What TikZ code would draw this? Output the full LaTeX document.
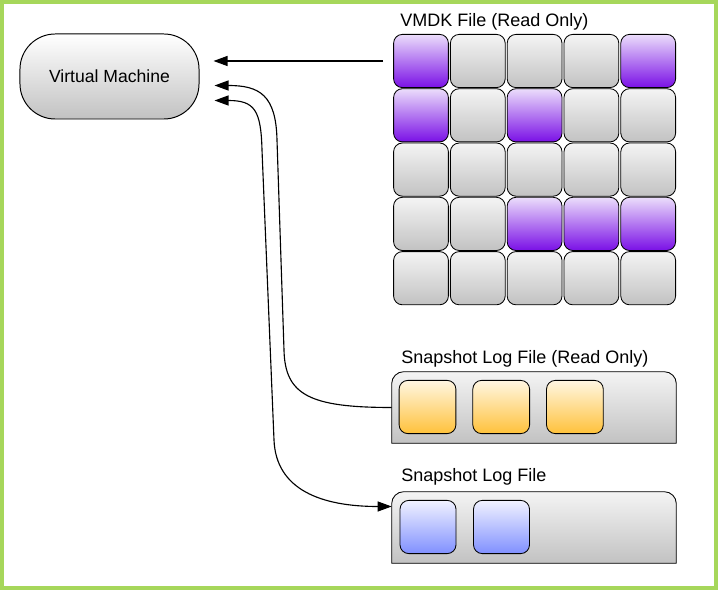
\documentclass[tikz,border=0pt]{standalone}
\usepackage{fontspec}
\setmainfont{Liberation Sans}
\definecolor{snapgreen}{HTML}{A6D75B}
\definecolor{snapgraytop}{HTML}{F4F4F4}
\definecolor{snapgraybot}{HTML}{C2C2C2}
\definecolor{snappurpletop}{HTML}{EBDDFB}
\definecolor{snappurplebot}{HTML}{7A10E6}
\definecolor{snaporangetop}{HTML}{FFF6E2}
\definecolor{snaporangebot}{HTML}{FFC23B}
\definecolor{snapbluetop}{HTML}{F1F2FF}
\definecolor{snapbluebot}{HTML}{8090FF}
\usetikzlibrary{arrows.meta,positioning,calc}
\begin{document}
\begin{tikzpicture}[x=0.025cm,y=-0.025cm,
  lbl/.style={font=\fontsize{12.8}{15}\selectfont, inner sep=0pt, anchor=west},
  vmbox/.style={draw=black, line width=0.7pt, rounded corners=0.88cm,
             minimum width=4.475cm, minimum height=2.125cm,
             top color=white, bottom color=snapgraybot,
             font=\fontsize{12.5}{15}\selectfont},
  blk/.style={draw=black, line width=0.6pt, rounded corners=0.22cm,
             minimum width=1.37cm, minimum height=1.33cm, inner sep=0pt},
  grayblk/.style={blk, top color=snapgraytop, bottom color=snapgraybot},
  purpleblk/.style={blk, top color=snappurpletop, bottom color=snappurplebot},
  orangeblk/.style={blk, minimum width=1.42cm, top color=snaporangetop, bottom color=snaporangebot},
  blueblk/.style={blk, minimum width=1.40cm, top color=snapbluetop, bottom color=snapbluebot},
  logframe/.style={minimum width=7.1cm, minimum height=1.775cm, inner sep=0pt},
  logblk/.style={draw=black, line width=0.6pt, top color=snapgraytop, bottom color=snapgraybot},
  arr/.style={-{Triangle[length=0.35cm,width=0.25cm]}, line width=0.8pt},
  biarr/.style={{Triangle[length=0.35cm,width=0.25cm]}-{Triangle[length=0.35cm,width=0.25cm]}, line width=0.8pt}
]
  \useasboundingbox (0,0) rectangle (718,590);
  \draw[snapgreen, line width=0.11cm] (2,2) rectangle (716,588);

  \node[vmbox] (vm) at (109.5,76.5) {Virtual Machine};

  % VMDK blocks
  \node[lbl] (vmdk) at (400,22) {VMDK File (Read Only)};
  \foreach \pat [count=\r from 0] in {
      {purpleblk,grayblk,grayblk,grayblk,purpleblk},
      {purpleblk,grayblk,purpleblk,grayblk,grayblk},
      {grayblk,grayblk,grayblk,grayblk,grayblk},
      {grayblk,grayblk,purpleblk,purpleblk,purpleblk},
      {grayblk,grayblk,grayblk,grayblk,grayblk}}
    \foreach \st [count=\c from 0] in \pat
      \node[\st] (c\r\c) at (421+56.8*\c, 61+54.3*\r) {};

  % snapshot logs
  \node[lbl] (roLbl) at (401,359) {Snapshot Log File (Read Only)};
  \node[logframe] (roLog) at (534,407.5) {};
  \draw[logblk] (roLog.south west) [rounded corners=0.3cm] -- (roLog.north west)
    -- (roLog.north east) [sharp corners] -- (roLog.south east) -- cycle;
  \foreach \i in {0,1,2}
    \node[orangeblk] (ro\i) at (427.5+73.7*\i, 407) {};

  \node[lbl] (rwLbl) at (401,477) {Snapshot Log File};
  \node[logframe] (rwLog) at (534,527.5) {};
  \draw[logblk] (rwLog.south west) [rounded corners=0.3cm] -- (rwLog.north west)
    -- (rwLog.north east) [sharp corners] -- (rwLog.south east) -- cycle;
  \foreach \i in {0,1}
    \node[blueblk] (rw\i) at (428+73.5*\i, 527) {};

  % connectors
  \draw[arr, shorten <=0.25cm] (c00.west) -- ($(vm.east |- c00.west)+(14,0)$);
  \draw[arr] (roLog.west) .. controls +(-82,0) and +(1,45) .. (284,350)
    -- (277,140) .. controls +(-1,-45) and +(45,0) .. ($(vm.east)+(15,9)$);
  \draw[biarr] ($(vm.east)+(15,24)$) .. controls +(40,0) and +(-1,-40) .. (262,150)
    -- (274,440) .. controls +(2,50) and +(-70,0) .. ($(rwLog.west)+(0,-21)$);
\end{tikzpicture}
\end{document}
